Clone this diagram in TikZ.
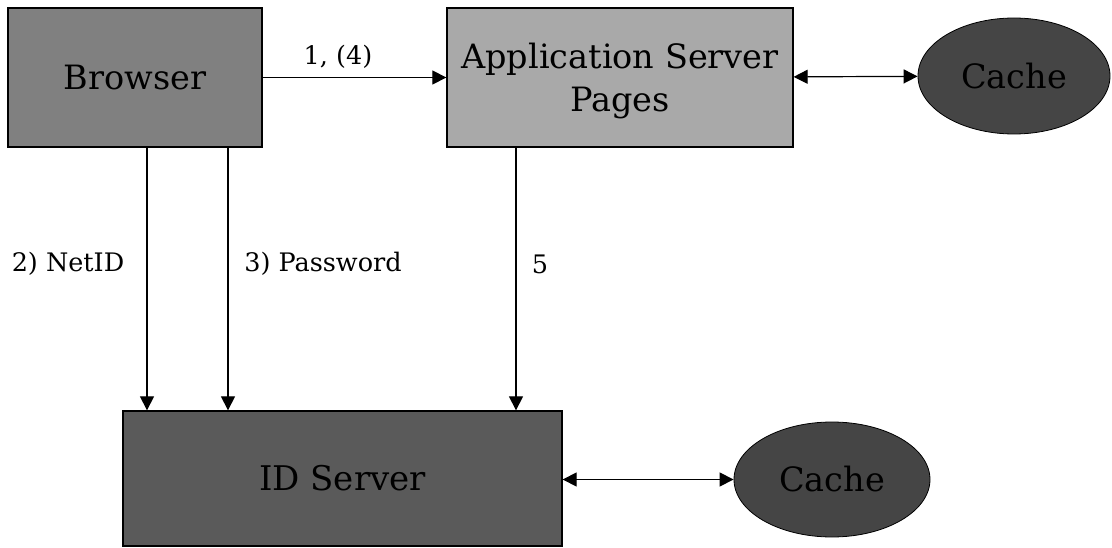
\documentclass[tikz,border=0pt]{standalone}
\usepackage{fontspec}
\setmainfont{DejaVu Serif}
\usepackage{tikz}
\usetikzlibrary{shapes,positioning,calc}
\usetikzlibrary{shapes.geometric, arrows}
\usetikzlibrary{arrows.meta}
\definecolor{browsergray}{HTML}{808080}
\definecolor{aspgray}{HTML}{A9A9A9}
\definecolor{idgray}{HTML}{5A5A5A}
\definecolor{cachegray}{HTML}{454545}
\tikzstyle{server} = [rectangle, draw=black, line width=1.3pt, inner sep=0pt,
text centered, align=center, font=\fontsize{33.5}{43}\selectfont]
\tikzstyle{cache} = [ellipse, draw=black, line width=0.8pt, fill=cachegray, inner sep=0pt,
font=\fontsize{33.5}{43}\selectfont]
\tikzstyle{arrow} = [line width=1.2pt,-{Triangle[length=14pt,width=14pt]}]
\tikzstyle{biarrow} = [line width=1.2pt,{Triangle[length=14pt,width=14pt]}-{Triangle[length=14pt,width=14pt]}]
\tikzstyle{msg} = [font=\fontsize{25.5}{28}\selectfont]

\begin{document}
\begin{tikzpicture}[x=1pt,y=-1pt]
						\useasboundingbox (0,0) rectangle (1112,548);
						\node (browser) at (135,77.5) [server, fill=browsergray, minimum width=254pt, minimum height=139pt] {Browser};
						\node (asp) at (620,77.5) [server, fill=aspgray, minimum width=346pt, minimum height=139pt] {\rule{0pt}{32pt}Application Server\\Pages};
						\node (cachetop) at (1014,76) [cache, minimum width=192pt, minimum height=116pt] {Cache};
						\node (idserver) at (342.5,478.5) [server, fill=idgray, minimum width=439pt, minimum height=135pt, font=\fontsize{34}{43}\selectfont] {ID Server};
						\node (cachebot) at (832,479.5) [cache, minimum width=196pt, minimum height=115pt] {Cache};
						\draw [arrow] (browser) -- (asp);
						\draw [biarrow] (asp) -- (cachetop);
						\draw [biarrow] (idserver.east |- cachebot) -- (cachebot);
						\draw [arrow] ([xshift=12pt]browser.south) -- ([xshift=12pt]browser.south |- idserver.north);
						\draw [arrow] ([xshift=93pt]browser.south) -- ([xshift=93pt]browser.south |- idserver.north);
						\draw [arrow] ([xshift=-104pt]asp.south) -- ([xshift=-104pt]asp.south |- idserver.north);
						\node (first) at (338,57) [msg] {1, (4)};
						\node (netid) at (68,264) [msg] {2) NetID};
						\node (password) at (323,264) [msg] {3) Password};
						\node (fifth) at (540,264) [msg] {5};
					\end{tikzpicture}
\end{document}
